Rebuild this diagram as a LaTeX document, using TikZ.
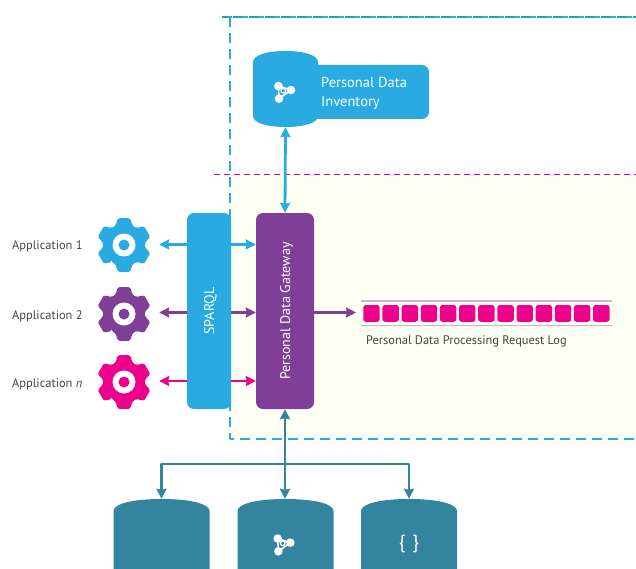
\documentclass[tikz,border=0pt]{standalone}
\usepackage{fontspec}
\setmainfont{PT Sans}
\usetikzlibrary{arrows.meta}
\definecolor{skyblue}{HTML}{29ABE2}
\definecolor{plum}{HTML}{7F3F98}
\definecolor{hotpink}{HTML}{EC008C}
\definecolor{petrol}{HTML}{34849F}
\definecolor{cream}{HTML}{FEFFF3}
\definecolor{palelog}{HTML}{CFB2D2}
\definecolor{bordergreen}{HTML}{12A8B8}
\definecolor{labelgrey}{HTML}{444444}
\tikzset{
	midbox/.style={draw=none,fill=#1,rounded corners=7,minimum height=196,inner sep=0,text=white,font=\fontsize{14}{16}\selectfont},
	storebase/.style={inner sep=0,minimum width=#1},
	applabel/.style={text=labelgrey,font=\fontsize{12.4}{14}\selectfont,anchor=west,inner sep=0},
	gearbase/.style={circle,minimum size=70,inner sep=0},
	link/.style={line width=2.8,#1},
	logcell/.style={fill=hotpink,rounded corners=2.5,minimum width=16.4,minimum height=16.8,inner sep=0},
	pics/gearicon/.style={code={
		\fill[#1,rounded corners=1.5] (126:21) \foreach \a in {90,30,-30,-90,-150,-210}{
			-- ({\a+24}:21) -- ({\a+13}:27.5) -- ({\a-13}:27.5) -- ({\a-24}:21)} -- cycle;
		\fill[white] (0,0) circle (11.5);
		\fill[#1] (0,0) circle (5.5);
	}},
	pics/graphicon/.style={code={
		\draw[white,line width=1.6] (-5,-4.7) -- (7.7,-0.7) -- (-4.3,8) -- cycle;
		\fill[white] (-5,-4.7) circle (4.3) (7.7,-0.7) circle (4.3) (-4.3,8) circle (4.3);
		\draw[white,fill=#1,line width=1.2] (0,0) circle (2.3);
	}}
}
% half width, half height, end curve
\newcommand{\storepath}[4]{
	\fill[#4] (-#1,{-#2+#3}) .. controls (-#1,{-#2+0.4*#3}) and ({-0.6*#1},-#2) .. (0,-#2)
		.. controls ({0.6*#1},-#2) and (#1,{-#2+0.4*#3}) .. (#1,{-#2+#3})
		-- (#1,{#2-#3}) .. controls (#1,{#2-0.4*#3}) and ({0.6*#1},#2) .. (0,#2)
		.. controls ({-0.6*#1},#2) and (-#1,{#2-0.4*#3}) .. (-#1,{#2-#3}) -- cycle;
}
\tikzset{
	pics/inventoryicon/.style={code={\storepath{32.5}{38}{11}{#1}}},
	pics/dbicon/.style={code={\storepath{48}{42}{12}{#1}}}
}
\begin{document}
\begin{tikzpicture}[x=1pt,y=-1pt,line join=round,>={Stealth[length=10,width=10,inset=1]}]
	\useasboundingbox (0,0) rectangle (636,569);
	\clip (0,0) rectangle (636,569);
	\fill[cream] (231,175) rectangle (636,439);
	\draw[skyblue,line width=2.2,dash pattern=on 10 off 6] (222,17) -- (636,17);
	\draw[bordergreen,line width=1.4,dash pattern=on 10 off 6,dash phase=5] (222,17) -- (636,17);
	\draw[skyblue,line width=2.2,dash pattern=on 10 off 6] (230,17) -- (230,439) -- (636,439);
	\draw[hotpink,line width=1.5,dash pattern=on 6 off 4] (214,174.5) -- (636,174.5);

	\node[fill=skyblue,rounded corners=7,minimum width=129,minimum height=54,inner sep=0] (inventorybox) at (364.5,92) {};
	\node[storebase=65,minimum height=76] (inventory) at (285.5,89) {};
	\pic at (inventory) {inventoryicon=skyblue};
	\node[text=white,font=\fontsize{14.5}{19}\selectfont,align=left,anchor=west,inner sep=0] (inventorytext) at (321,93) {Personal Data\\Inventory};
	\pic at (283.3,90.7) {graphicon=skyblue};

	\node[midbox=skyblue,minimum width=44] (sparql) at (209,311) {\hspace*{3pt}\rotatebox{90}{SPARQL}};
	\node[midbox=plum,minimum width=58] (gateway) at (285,311) {\hspace*{3pt}\rotatebox{90}{Personal Data Gateway}};

	\node[gearbase] (gear1) at (124,245) {};
	\node[gearbase] (gear2) at (124,314) {};
	\node[gearbase] (gearn) at (124,382) {};
	\pic at (gear1) {gearicon=skyblue};
	\pic at (gear2) {gearicon=plum};
	\pic at (gearn) {gearicon=hotpink};
	\node[applabel] (app1) at (12,246) {Application 1};
	\node[applabel] (app2) at (12,316) {Application 2};
	\node[applabel] (appn) at (12,384) {Application \textit{n}};

	\draw[link=skyblue,->] (sparql.west |- 0,244.5) -- (gear1.east |- 0,244.5);
	\draw[link=skyblue,->] (sparql.east |- 0,244.5) -- (gateway.west |- 0,244.5);
	\draw[link=plum,->] (sparql.west |- 0,312.5) -- (gear2.east |- 0,312.5);
	\draw[link=plum,->] (sparql.east |- 0,312.5) -- (gateway.west |- 0,312.5);
	\draw[link=hotpink,->] (sparql.west |- 0,381) -- (gearn.east |- 0,381);
	\draw[link=hotpink,->] (sparql.east |- 0,381) -- (gateway.west |- 0,381);

	\draw[link=skyblue,<->] (inventory.south) -- (gateway.north);

	\coordinate (login) at (356,312.5);
	\draw[link=plum,->] (gateway.east |- login) -- (login);
	\foreach \i in {0,...,12}
		\node[logcell] (cell\i) at ({371.5+\i*19.15},313.4) {};
	\draw[palelog,line width=1.3] (361,301) -- (612,301);
	\draw[palelog,line width=1.3] (361,325.7) -- (612,325.7);
	\node[applabel] (logtext) at (366,341) {Personal Data Processing Request Log};

	\node[storebase=96,minimum height=84] (db1) at (161.5,541) {};
	\node[storebase=96,minimum height=84] (db2) at (285.5,541) {};
	\node[storebase=96,minimum height=84] (db3) at (409,541) {};
	\pic at (db1) {dbicon=petrol};
	\pic at (db2) {dbicon=petrol};
	\pic at (db3) {dbicon=petrol};
	\pic at (282.7,543.3) {graphicon=petrol};
	\node[text=white,font=\fontsize{19}{20}\selectfont,inner sep=0] (braces) at (409,544) {\{\hspace{7pt}\}};

	\coordinate (bus) at (285,464);
	\draw[link=petrol,<->] (gateway.south) -- (gateway.south |- db2.north);
	\draw[link=petrol,->] (bus) -| (db1.north);
	\draw[link=petrol,->] (bus) -| (db3.north);
\end{tikzpicture}
\end{document}
